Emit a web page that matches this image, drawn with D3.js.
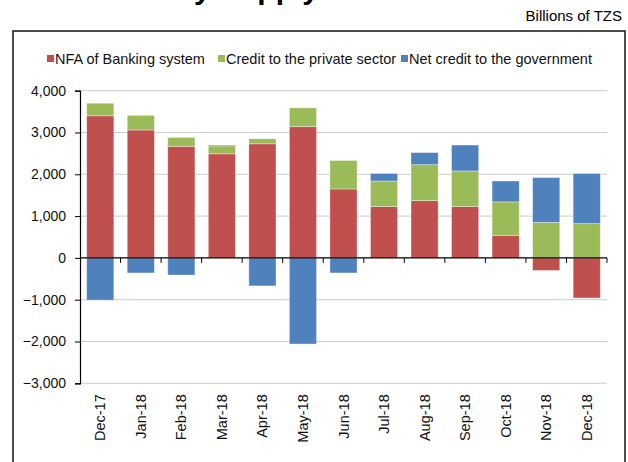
<!DOCTYPE html>
<html>
<head>
<meta charset="utf-8">
<script src="https://cdn.jsdelivr.net/npm/d3@7/dist/d3.min.js"></script>
<style>
  html, body { margin: 0; padding: 0; background: #fff; }
  svg { display: block; font-family: "Liberation Sans", Arial, sans-serif; }
</style>
</head>
<body>
<svg id="chart" width="628" height="462"></svg>
<script>
// Monthly contributions to money supply growth (billions of TZS)
const months = ["Dec-17", "Jan-18", "Feb-18", "Mar-18", "Apr-18", "May-18",
                "Jun-18", "Jul-18", "Aug-18", "Sep-18", "Oct-18", "Nov-18", "Dec-18"];
const nfaBanking   = [3400, 3060, 2670, 2490, 2730, 3140, 1650, 1230, 1370, 1230, 540, -300, -960];
const privateCredit = [300, 350, 210, 190, 120, 450, 680, 610, 860, 850, 800, 850, 820];
const govCredit    = [-1010, -360, -410, 20, -670, -2060, -360, 180, 290, 620, 500, 1070, 1200];
const yTicks = [-3000, -2000, -1000, 0, 1000, 2000, 3000, 4000];

const seriesNames = ["NFA of Banking system", "Credit to the private sector", "Net credit to the government"];
const seriesKeys = ["nfa", "credit", "gov"];
const colors = ["#C0504D", "#9BBB59", "#4F81BD"];

const rows = months.map((m, i) => ({ month: m, nfa: nfaBanking[i], credit: privateCredit[i], gov: govCredit[i] }));

const svg = d3.select("#chart");

// Title (top of the page, mostly outside the frame)
svg.append("text")
  .attr("x", 319).attr("y", -1)
  .attr("text-anchor", "end")
  .attr("font-size", 30).attr("font-weight", "bold")
  .attr("fill", "#000")
  .text("Money Supply");

svg.append("text")
  .attr("x", 622).attr("y", 21)
  .attr("text-anchor", "end")
  .attr("font-size", 15)
  .attr("fill", "#000")
  .text("Billions of TZS");

// Chart frame
svg.append("rect")
  .attr("x", 13).attr("y", 31)
  .attr("width", 612).attr("height", 450)
  .attr("fill", "none").attr("stroke", "#222").attr("stroke-width", 1.6);

// Legend
const legendItems = [{ x: 47 }, { x: 218 }, { x: 401 }];
const legend = svg.append("g");
seriesNames.forEach((name, i) => {
  const g = legend.append("g").attr("transform", `translate(${legendItems[i].x},0)`);
  g.append("rect").attr("x", 0).attr("y", 55).attr("width", 7).attr("height", 7).attr("fill", colors[i]);
  g.append("text").attr("x", 8).attr("y", 63.5).attr("font-size", 14.5).attr("fill", "#111").text(name);
});

// Plot area
const plotLeft = 80, plotRight = 607, plotTop = 90.7, plotBottom = 383.3;

const x = d3.scaleBand().domain(months).range([plotLeft, plotRight]).paddingInner(0.33).paddingOuter(0.165);
const y = d3.scaleLinear().domain([-3000, 4000]).range([plotBottom, plotTop]);

// Gridlines
svg.append("g")
  .selectAll("line")
  .data(yTicks.filter(t => t !== 0))
  .join("line")
  .attr("x1", plotLeft).attr("x2", plotRight)
  .attr("y1", d => y(d)).attr("y2", d => y(d))
  .attr("stroke", "#cccccc").attr("stroke-width", 1);

// Stacked bars (negatives stacked below zero)
const stacked = d3.stack().keys(seriesKeys).offset(d3.stackOffsetDiverging)(rows);

svg.append("g")
  .selectAll("g")
  .data(stacked)
  .join("g")
  .attr("fill", (d, i) => colors[i])
  .selectAll("rect")
  .data(d => d)
  .join("rect")
  .attr("x", d => x(d.data.month))
  .attr("width", x.bandwidth())
  .attr("y", d => y(Math.max(d[0], d[1])))
  .attr("height", d => Math.abs(y(d[0]) - y(d[1])))
  .attr("stroke", "#fff").attr("stroke-opacity", 0.45).attr("stroke-width", 0.8);

// Y axis
const yAxis = svg.append("g")
  .attr("transform", `translate(${plotLeft},0)`)
  .call(d3.axisLeft(y).tickValues(yTicks).tickSize(5).tickPadding(9).tickFormat(d3.format(",")));
yAxis.select(".domain").attr("stroke", "#000").attr("stroke-width", 1.2);
yAxis.selectAll(".tick line").attr("stroke", "#000");
yAxis.selectAll("text").attr("font-size", 14).attr("fill", "#111").attr("font-family", "Liberation Sans, Arial, sans-serif");

// Zero line with ticks between categories
const boundaries = months.map((m, i) => plotLeft + i * x.step()).slice(1).concat([plotRight]);
svg.append("line")
  .attr("x1", plotLeft).attr("x2", plotRight)
  .attr("y1", y(0)).attr("y2", y(0))
  .attr("stroke", "#000").attr("stroke-width", 1.2);
svg.append("g")
  .selectAll("line")
  .data(boundaries)
  .join("line")
  .attr("x1", d => d).attr("x2", d => d)
  .attr("y1", y(0)).attr("y2", y(0) + 5)
  .attr("stroke", "#000");

// Category labels, rotated
svg.append("g")
  .selectAll("text")
  .data(months)
  .join("text")
  .attr("transform", d => `translate(${x(d) + x.bandwidth() / 2 + 5},${plotBottom + 11}) rotate(-90)`)
  .attr("text-anchor", "end")
  .attr("font-size", 14.5)
  .attr("fill", "#111")
  .text(d => d);
</script>
</body>
</html>
